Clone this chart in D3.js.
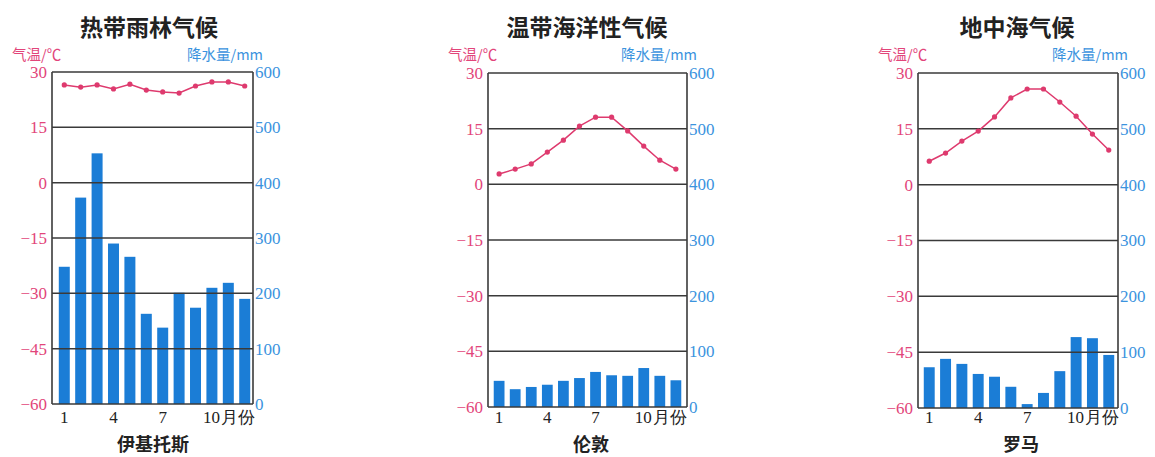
<!DOCTYPE html>
<html>
<head>
<meta charset="utf-8">
<script src="https://cdn.jsdelivr.net/npm/d3@7"></script>
<style>
  html, body { margin: 0; padding: 0; background: #ffffff; }
  svg { display: block; }
</style>
</head>
<body>
<svg id="chart" width="1155" height="457"></svg>
<script>
// Monthly climate data for three climate types
const months = [1, 2, 3, 4, 5, 6, 7, 8, 9, 10, 11, 12];
const monthTicks = [1, 4, 7, 10];
const monthTickLabels = ["1", "4", "7", "10月份"];
const tempTicks = [30, 15, 0, -15, -30, -45, -60];
const precipTicks = [600, 500, 400, 300, 200, 100, 0];

const climateTitles = ["热带雨林气候", "温带海洋性气候", "地中海气候"];
const cityNames = ["伊基托斯", "伦敦", "罗马"];

// 伊基托斯
const iquitosTemp = [26.5, 25.9, 26.5, 25.4, 26.7, 25.1, 24.6, 24.3, 26.2, 27.3, 27.3, 26.2];
const iquitosPrecip = [248, 373, 453, 290, 266, 163, 138, 201, 174, 210, 219, 190];
// 伦敦
const londonTemp = [2.8, 4.1, 5.5, 8.7, 11.9, 15.7, 18.1, 18.1, 14.4, 10.3, 6.5, 4.1];
const londonPrecip = [47, 32, 36, 40, 47, 52, 63, 57, 56, 70, 56, 48];
// 罗马
const romeTemp = [6.3, 8.5, 11.7, 14.4, 18.2, 23.3, 25.7, 25.7, 22.2, 18.4, 13.6, 9.3];
const romePrecip = [73, 88, 79, 61, 56, 38, 7, 27, 66, 127, 125, 95];

const temps = [iquitosTemp, londonTemp, romeTemp];
const precips = [iquitosPrecip, londonPrecip, romePrecip];

// panel geometry
const panels = [
  { left: 52, right: 253, top: 72, bottom: 404, cx: 149, bandL: 56, bandR: 253 },
  { left: 488, right: 687, top: 73, bottom: 407, cx: 587, bandL: 491, bandR: 684 },
  { left: 918, right: 1118, top: 73, bottom: 408, cx: 1017, bandL: 921, bandR: 1117 }
];

const PINK = "#e2457a";
const LINE = "#de3a6e";
const BLUE = "#3b93de";
const BAR = "#1b7dd6";
const GRID = "#3a3a3a";
const serif = "'Liberation Serif', 'DejaVu Serif', serif";
const cjk = "'Noto Sans CJK SC', sans-serif";

const svg = d3.select("#chart");

panels.forEach((p, i) => {
  const g = svg.append("g");

  const x = d3.scaleBand().domain(months).range([p.bandL, p.bandR]).paddingInner(0.33).paddingOuter(0.17);
  const yT = d3.scaleLinear().domain([-60, 30]).range([p.bottom, p.top]);
  const yP = d3.scaleLinear().domain([0, 600]).range([p.bottom, p.top]);

  // title
  g.append("text")
    .attr("x", p.cx).attr("y", 36)
    .attr("text-anchor", "middle")
    .style("font-family", cjk).style("font-weight", 700)
    .style("font-size", "23px").attr("fill", "#222")
    .text(climateTitles[i]);

  // axis titles
  g.append("text")
    .attr("x", p.left - 40).attr("y", 60)
    .style("font-family", cjk).style("font-size", "14.5px").attr("fill", PINK)
    .text("气温/℃");
  g.append("text")
    .attr("x", p.right + 10).attr("y", 60)
    .attr("text-anchor", "end")
    .style("font-family", cjk).style("font-size", "14.5px").attr("fill", BLUE)
    .text("降水量/mm");

  // bars
  g.selectAll("rect.bar")
    .data(precips[i])
    .join("rect")
    .attr("class", "bar")
    .attr("x", (d, j) => x(months[j]))
    .attr("width", x.bandwidth())
    .attr("y", d => yP(d))
    .attr("height", d => yP(0) - yP(d))
    .attr("fill", BAR);

  // horizontal grid lines
  g.selectAll("line.grid")
    .data(tempTicks)
    .join("line")
    .attr("class", "grid")
    .attr("x1", p.left).attr("x2", p.right)
    .attr("y1", d => yT(d)).attr("y2", d => yT(d))
    .attr("stroke", GRID).attr("stroke-width", 1.5);

  // frame sides
  g.append("line").attr("x1", p.left).attr("x2", p.left)
    .attr("y1", p.top).attr("y2", p.bottom)
    .attr("stroke", GRID).attr("stroke-width", 1.6);
  g.append("line").attr("x1", p.right).attr("x2", p.right)
    .attr("y1", p.top).attr("y2", p.bottom)
    .attr("stroke", GRID).attr("stroke-width", 1.6);

  // left temperature axis
  const axL = d3.axisLeft(yT).tickValues(tempTicks).tickSize(0).tickPadding(5)
    .tickFormat(d => d < 0 ? "\u2212" + Math.abs(d) : String(d));
  const gL = g.append("g").attr("transform", `translate(${p.left},0)`).call(axL);
  gL.select(".domain").remove();
  gL.attr("font-family", null).attr("font-size", null);
  gL.selectAll("text").style("font-family", serif).style("font-size", "17px").attr("fill", PINK);

  // right precipitation axis
  const axR = d3.axisRight(yP).tickValues(precipTicks).tickSize(0).tickPadding(2);
  const gR = g.append("g").attr("transform", `translate(${p.right},0)`).call(axR);
  gR.select(".domain").remove();
  gR.attr("font-family", null).attr("font-size", null);
  gR.selectAll("text").style("font-family", serif).style("font-size", "17px").attr("fill", BLUE);

  // bottom month axis
  const xc = m => x(m) + x.bandwidth() / 2;
  const gB = g.append("g");
  gB.selectAll("text")
    .data(monthTicks)
    .join("text")
    .attr("x", (d, j) => j === monthTicks.length - 1 ? xc(d) - 9 : xc(d))
    .attr("y", 423)
    .attr("text-anchor", (d, j) => j === monthTicks.length - 1 ? "start" : "middle")
    .style("font-family", serif).style("font-size", "17px").attr("fill", "#222")
    .each(function(d, j) {
      const label = monthTickLabels[j];
      const num = label.match(/^\d+/)[0];
      const rest = label.slice(num.length);
      const t = d3.select(this);
      t.append("tspan").text(num);
      if (rest) t.append("tspan").style("font-family", serif).attr("dx", 1).text(rest);
    });

  // city name
  g.append("text")
    .attr("x", p.cx + 4).attr("y", 451)
    .attr("text-anchor", "middle")
    .style("font-family", cjk).style("font-weight", 700)
    .style("font-size", "18px").attr("fill", "#222")
    .text(cityNames[i]);

  // temperature line
  const line = d3.line()
    .x((d, j) => xc(months[j]))
    .y(d => yT(d));
  g.append("path")
    .datum(temps[i])
    .attr("d", line)
    .attr("fill", "none")
    .attr("stroke", LINE).attr("stroke-width", 1.5);
  g.selectAll("circle.pt")
    .data(temps[i])
    .join("circle")
    .attr("class", "pt")
    .attr("cx", (d, j) => xc(months[j]))
    .attr("cy", d => yT(d))
    .attr("r", 2.6)
    .attr("fill", LINE);
});
</script>
</body>
</html>
